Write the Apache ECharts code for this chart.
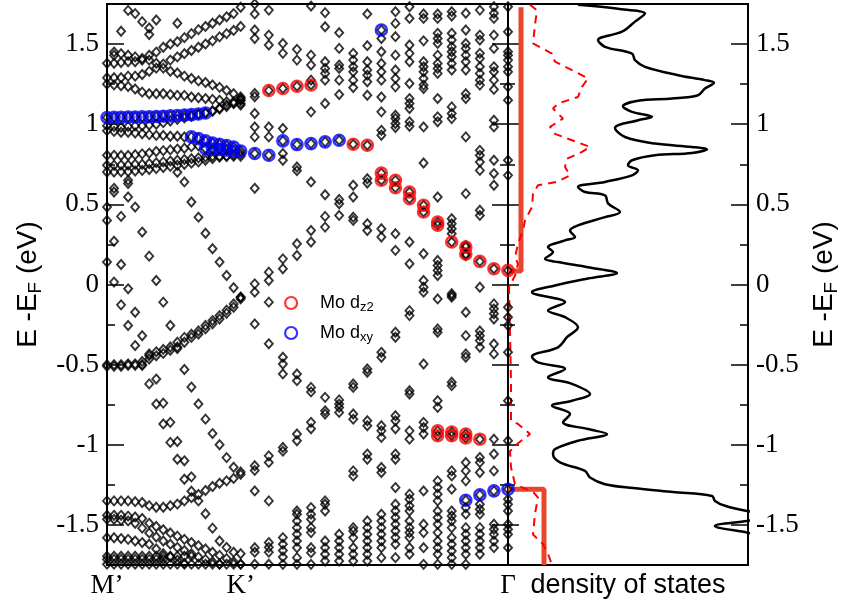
<!DOCTYPE html>
<html><head><meta charset="utf-8">
<script src="https://cdn.jsdelivr.net/npm/echarts@6/dist/echarts.min.js"></script>
<style>html,body{margin:0;padding:0;background:#fff}#c{width:842px;height:605px}</style>
</head><body><div id="c"></div>
<script>
// ---------- axis ticks / labels ----------
const yMajor = [-1.5, -1, -0.5, 0, 0.5, 1, 1.5];
const kLabelPos = [0, 19, 57];
const kLabelText = ['M\u2019', 'K\u2019', '\u0393'];

// ---------- band structure: M' -> K' (k = 0..19) ----------
const mkK = [0,1,2,3,4,5,6,7,8,9,10,11,12,13,14,15,16,17,18,19];
const mkU1 = [1.38,1.38,1.385,1.39,1.39,1.40,1.43,1.45,1.48,1.50,1.515,1.54,1.565,1.59,1.61,1.63,1.65,1.67,1.69,1.73];
const mkU2 = [1.29,1.29,1.29,1.30,1.30,1.31,1.33,1.35,1.375,1.40,1.42,1.44,1.46,1.48,1.50,1.52,1.545,1.565,1.585,1.61];
const mkU3 = [null,1.45,1.44,1.43,1.42,1.41,1.40,1.38,1.35,1.33,1.32,1.30,1.285,1.27,1.26,1.245,1.23,1.21,1.19,1.17];
const mkU4 = [1.25,1.245,1.24,1.235,1.22,1.20,1.19,1.19,1.19,1.185,1.18,1.18,1.17,1.165,1.16,1.155,1.15,1.14,1.13,1.12];
const mkU5 = [null,null,null,null,null,null,null,null,null,null,null,null,null,null,null,1.085,1.10,1.12,1.14,1.16];
const mkU6 = [0.99,0.985,0.98,0.985,0.99,0.99,0.995,1.0,1.01,1.02,1.03,1.04,1.05,1.06,1.07,1.08,1.095,1.11,1.13,1.15];
const mkU7 = [0.96,0.955,0.95,0.95,0.945,0.94,0.935,0.93,0.93,0.925,0.925,0.92,null,null,null,null,null,null,null,null];
const mkU8 = [0.806,0.806,0.805,0.805,0.81,0.815,0.82,0.83,0.835,0.84,0.845,0.85,0.86,0.865,null,null,null,null,null,null];
const mkU9 = [0.744,0.744,0.745,0.745,0.75,0.75,0.755,0.76,0.765,0.77,0.775,0.78,0.785,0.79,0.795,0.80,0.80,0.80,0.80,0.80];
const mkU10 = [0.702,0.702,0.703,0.705,0.708,0.712,0.717,0.723,0.73,0.737,0.744,0.75,0.757,0.765,0.775,0.785,0.795,0.80,0.81,0.815];
const mkS = [null,null,null,null,null,null,null,null,null,null,0.70,0.64,0.515,0.42,0.32,0.223,0.14,0.056,-0.02,-0.08];
const mkP = [null,null,null,0.63,0.483,0.327,0.177,0.025,-0.11,-0.256,-0.40,-0.53,-0.64,-0.745,-0.84,-0.93,-1.0,-1.08,-1.14,-1.17];
const mkQ = [0.40,0.27,0.125,-0.027,-0.173,-0.32,-0.444,-0.59,-0.74,-0.86,-0.98,-1.1,-1.2,null,null,null,null,null,null,null];
const mkR = [0.14,0.015,-0.127,-0.256,-0.381,-0.50,-0.62,-0.746,-0.87,-0.985,-1.09,-1.215,-1.29,-1.35,-1.43,-1.52,-1.6,-1.64,-1.67,-1.68];
const mkF1 = [-0.50,-0.50,-0.50,-0.495,-0.495,-0.48,-0.433,-0.42,-0.405,-0.39,-0.36,-0.33,-0.31,-0.29,-0.256,-0.225,-0.194,-0.16,-0.121,-0.079];
const mkF2 = [-0.51,-0.51,-0.51,-0.505,-0.505,-0.505,-0.465,-0.445,-0.43,-0.41,-0.39,-0.36,-0.33,-0.31,-0.277,-0.245,-0.215,-0.18,-0.142,-0.09];
const mkG1 = [-1.35,-1.35,-1.35,-1.35,-1.355,-1.36,-1.38,-1.39,-1.39,-1.38,-1.37,-1.35,-1.33,-1.31,-1.285,-1.26,-1.24,-1.225,-1.21,-1.185];
const mkG2 = [-1.44,-1.44,-1.44,-1.445,-1.45,-1.46,-1.49,-1.51,-1.53,-1.55,-1.57,-1.59,-1.61,-1.63,-1.65,-1.67,-1.69,-1.71,-1.73,-1.745];
const mkG3 = [-1.465,-1.465,-1.47,-1.475,-1.49,-1.52,-1.55,-1.575,-1.60,-1.62,-1.64,-1.66,-1.68,-1.70,-1.715,-1.73,-1.745,null,null,null];
const mkG4 = [-1.58,-1.58,-1.585,-1.59,-1.60,-1.61,-1.62,-1.65,-1.68,-1.70,-1.72,-1.74,null,null,null,null,null,null,null,null];
const mkG5 = [-1.695,-1.695,-1.695,-1.695,-1.695,-1.695,-1.695,-1.695,-1.695,-1.695,-1.695,-1.695,-1.695,null,null,null,null,null,null,null];
const mkG6 = [-1.715,-1.715,-1.715,-1.715,-1.715,-1.715,-1.715,-1.715,-1.715,null,null,null,null,null,null,null,null,null,null,null];
const mkG7 = [-1.745,-1.745,-1.745,-1.745,-1.745,-1.745,-1.745,-1.745,-1.745,-1.745,-1.745,-1.745,-1.745,-1.745,-1.745,-1.745,-1.745,-1.745,-1.745,-1.745];
const mkExtraK = [3,4,5,6,6,7,10,2,1,1,1,3,3,2,0,19,19];
const mkExtraE = [1.71,1.69,1.64,1.60,1.56,1.65,1.63,1.58,1.43,0.60,0.577,0.65,0.546,0.425,0.483,1.15,1.13];

// ---------- band structure: K' -> Gamma (columns) ----------
const kgK = [21,23,25,27,29,31,33,35,37,39,41,43,45,47,49,51,53,55,57];
const kgE = [
 [1.75,1.688,1.588,1.535,1.192,1.171,1.067,0.983,0.921,0.60,0.004,-0.048,-0.246,-1.131,-1.16,-1.288,-1.642,-1.67,-1.745],
 [1.712,1.556,1.494,0.983,0.921,0.077,0.025,-0.11,-0.37,-1.069,-1.11,-1.35,-1.61,-1.64,-1.67,-1.745],
 [1.504,1.442,0.973,0.817,0.775,0.16,0.098,-0.454,-0.496,-0.558,-1.017,-1.04,-1.579,-1.62,-1.66,-1.70,-1.746],
 [1.467,1.40,0.733,0.71,0.254,0.181,-0.558,-0.60,-0.933,-0.975,-1.413,-1.433,-1.475,-1.517,-1.558,-1.6,-1.642,-1.704,-1.746],
 [1.737,1.431,1.369,1.275,1.077,0.64,0.337,0.265,-0.642,-0.67,-0.86,-0.9,-1.392,-1.433,-1.465,-1.517,-1.548,-1.642,-1.673,-1.746],
 [1.696,1.608,1.39,1.348,1.317,1.275,1.129,0.56,0.425,0.358,-0.704,-0.788,-0.808,-1.35,-1.371,-1.413,-1.6,-1.642,-1.683,-1.725],
 [1.571,1.473,1.369,1.348,1.275,1.185,0.53,0.504,0.431,-0.72,-0.746,-0.767,-0.798,-1.558,-1.6,-1.642,-1.683,-1.725],
 [1.442,1.40,1.358,1.327,1.275,1.229,0.619,0.546,0.42,0.40,-0.621,-0.642,-0.808,-0.84,-1.163,-1.194,-1.517,-1.538,-1.579,-1.642,-1.683,-1.725],
 [1.688,1.49,1.39,1.338,1.306,1.265,1.181,0.66,0.633,0.379,0.337,-0.527,-0.548,-0.85,-0.881,-1.058,-1.09,-1.475,-1.517,-1.558,-1.6,-1.642,-1.683,-1.725],
 [1.535,1.452,1.379,1.327,1.275,1.17,1.077,0.962,0.931,0.348,0.296,-0.423,-0.454,-0.881,-0.913,-0.954,-1.142,-1.173,-1.433,-1.475,-1.517,-1.558,-1.6,-1.642,-1.704],
 [1.702,1.629,1.546,1.431,1.338,1.285,1.233,1.056,1.035,1.004,0.979,0.317,0.213,-0.298,-0.329,-0.819,-0.85,-0.9,-1.058,-1.09,-1.267,-1.371,-1.413,-1.454,-1.496,-1.538,-1.579,-1.621,-1.704],
 [1.733,1.66,1.494,1.442,1.39,1.254,1.16,1.129,1.098,1.015,0.987,0.265,0.129,-0.163,-0.194,-0.663,-0.683,-0.913,-0.965,-1.308,-1.34,-1.381,-1.413,-1.475,-1.517,-1.548,-1.579,-1.642,-1.683],
 [1.688,1.66,1.52,1.39,1.358,1.327,1.285,1.244,1.223,0.983,0.758,0.192,0.025,-0.017,-0.048,-0.496,-0.86,-0.892,-0.933,-1.288,-1.496,-1.548,-1.642,-1.746],
 [1.688,1.66,1.567,1.535,1.504,1.431,1.379,1.348,1.317,1.16,1.046,1.015,0.546,0.15,0.119,0.088,0.056,-0.09,-0.277,-0.298,-0.725,-0.767,-1.225,-1.267,-1.308,-1.35,-1.413,-1.454,-1.496,-1.548,-1.6,-1.642,-1.683,-1.746],
 [1.702,1.675,1.567,1.525,1.483,1.452,1.421,1.379,1.338,1.108,1.067,1.035,0.41,0.379,0.348,0.317,-0.058,-0.069,-0.079,-0.61,-0.631,-1.163,-1.194,-1.277,-1.413,-1.444,-1.475,-1.517,-1.579,-1.621,-1.663,-1.704,-1.746],
 [1.692,1.588,1.504,1.473,1.431,1.39,1.338,1.19,1.16,0.921,0.567,0.244,0.181,-0.173,-0.319,-0.433,-0.454,-1.11,-1.163,-1.225,-1.392,-1.433,-1.517,-1.558,-1.6,-1.642,-1.683,-1.746],
 [1.712,1.556,1.525,1.442,1.41,1.358,1.317,1.275,1.244,0.837,0.806,0.764,0.712,0.463,0.431,-0.017,-0.29,-0.319,-0.35,-0.392,-1.079,-1.11,-1.173,-1.371,-1.402,-1.433,-1.517,-1.558,-1.6,-1.642,-1.683],
 [1.733,1.692,1.66,1.556,1.473,1.358,1.327,1.275,1.217,1.025,0.983,0.775,0.692,0.619,-0.121,-0.152,-0.183,-0.215,-0.371,-0.433,-0.965,-1.058,-1.163,-1.496,-1.527,-1.558,-1.6,-1.642],
 [1.733,1.577,1.452,1.431,1.40,1.358,1.327,1.233,1.15,0.775,0.681,-0.142,-0.204,-0.256,-0.423,-0.725,-0.975,-1.34,-1.371,-1.413,-1.496,-1.527,-1.558,-1.642]
];

// ---------- projected character (circles) ----------
const dz2K = [23,25,27,29,35,37,39,39,41,41,43,43,45,45,47,47,49,51,51,53,55,57,47,47,49,49,51,51,53];
const dz2E = [1.21,1.223,1.237,1.245,0.875,0.869,0.695,0.65,0.65,0.604,0.577,0.535,0.494,0.452,0.39,0.37,0.265,0.233,0.19,0.144,0.098,0.088,-0.913,-0.944,-0.92,-0.944,-0.933,-0.958,-0.965];
const dxyK = [0,1,2,3,4,5,6,7,8,9,10,11,12,13,14, 12,13,14,15,16,17,18, 14,15,16,17,18,19, 21,23,25,27,29,31,33,39,51,53,55,57];
const dxyE = [1.042,1.043,1.043,1.044,1.045,1.046,1.047,1.048,1.05,1.052,1.054,1.057,1.06,1.064,1.07,
              0.921,0.91,0.896,0.883,0.875,0.867,0.858,
              0.848,0.844,0.842,0.838,0.833,0.833,
              0.817,0.806,0.896,0.873,0.879,0.89,0.9,1.588,-1.346,-1.3125,-1.2875,-1.277];

// ---------- density of states ----------
const dosTotE = [1.745,1.72,1.69,1.64,1.577,1.525,1.483,1.44,1.40,1.358,1.306,1.275,1.258,1.223,1.181,1.16,1.146,1.1125,1.077,1.046,1.025,0.977,0.92,0.879,0.858,0.844,0.821,0.806,0.775,0.744,0.7125,0.681,0.64,0.608,0.577,0.556,0.506,0.452,0.42,0.369,0.3375,0.296,0.275,0.233,0.202,0.16,0.14,0.108,0.071,0.0375,-0.006,-0.048,-0.11,-0.1625,-0.204,-0.267,-0.329,-0.392,-0.45,-0.486,-0.527,-0.579,-0.62,-0.683,-0.725,-0.756,-0.808,-0.86,-0.902,-0.933,-0.975,-1.027,-1.058,-1.11,-1.1625,-1.204,-1.246,-1.27,-1.295,-1.319,-1.35,-1.38,-1.4125,-1.44,-1.475,-1.506,-1.548,-1.6,-1.75];
const dosTotV = [7.0,11.0,13.7,12.7,11.4,9.0,9.7,12.4,12.7,13.7,17.0,19.7,20.6,19.7,19.0,16.4,13.0,11.5,12.4,14.4,13.0,10.7,11.7,14.7,18.4,19.9,18.4,14.7,12.4,12.0,13.0,12.4,9.7,7.0,7.7,9.7,10.0,11.2,9.7,7.0,6.2,6.7,5.7,4.0,4.5,3.7,5.0,8.0,10.9,8.0,4.7,2.4,5.7,4.0,5.7,7.0,5.9,5.0,2.4,3.0,5.7,4.0,6.4,8.2,6.4,4.4,6.2,5.5,8.0,9.9,7.0,4.7,4.5,5.2,7.7,8.2,9.7,12.5,16.5,20.4,20.7,21.7,23.9,27.0,23.9,20.7,23.9,28.0,30.0];
const dosMoE = [1.745,1.71,1.62,1.504,1.44,1.39,1.3375,1.286,1.233,1.17,1.129,1.098,1.035,0.983,0.94,0.9,0.858,0.827,0.785,0.733,0.681,0.64,0.619,0.567,0.483,0.40,0.3375,0.254,0.17,0.129,0.056,-0.017,-0.3,-0.6,-0.85,-0.87,-0.933,-0.99,-1.04,-1.14,-1.246,-1.30,-1.33,-1.43,-1.56,-1.62,-1.68,-1.75];
const dosMoV = [2.2,2.9,2.7,2.5,4.4,4.7,6.4,8.0,7.4,7.0,5.0,4.5,5.5,4.2,4.7,6.4,8.2,7.4,5.9,5.7,6.2,4.9,3.0,2.5,2.4,1.7,1.5,1.0,0.7,1.0,0.7,0.1,0.2,0.3,0.3,1.0,2.2,1.0,0.2,0.3,0.7,2.6,3.0,2.7,2.5,3.5,4.0,4.4];
const gapUpE = [1.73, 0.085, 0.085];
const gapUpV = [1.3, 1.3, 0];
const gapDnE = [-1.277, -1.277, -1.75];
const gapDnV = [0, 3.6, 3.6];

// ---------- build ----------
const mkBands = [mkU1,mkU2,mkU3,mkU4,mkU5,mkU6,mkU7,mkU8,mkU9,mkU10,mkS,mkP,mkQ,mkR,mkF1,mkF2,mkG1,mkG2,mkG3,mkG4,mkG5,mkG6,mkG7];
const black = [];
mkBands.forEach(b => b.forEach((e, i) => { if (e !== null) black.push([mkK[i], e]); }));
mkExtraK.forEach((k, i) => black.push([k, mkExtraE[i]]));
kgE.forEach((col, j) => col.forEach(e => black.push([kgK[j], e])));
const dz2 = dz2K.map((k, i) => [k, dz2E[i]]);
const dxy = dxyK.map((k, i) => [k, dxyE[i]]);
dz2.forEach(p => black.push(p));
dxy.forEach(p => black.push(p));

const SERIF = 'Liberation Serif';
const SANS = 'Liberation Sans';
const tickLine = { color: '#000', width: 1.5 };

function yAx(grid, pos, len, withLabels, custom, extra) {
  const a = {
    type: 'value', gridIndex: grid, position: pos, min: -1.75, max: 1.75, interval: 0.25,
    axisLine: { show: false, onZero: false },
    splitLine: { show: false },
    axisTick: { show: true, inside: true, length: len, lineStyle: tickLine },
    axisLabel: { show: false }
  };
  if (custom) {
    a.axisTick.customValues = yMajor;
    if (withLabels) {
      a.axisLabel = { show: true, customValues: yMajor, formatter: v => String(v),
        fontFamily: SERIF, fontSize: 27, color: '#000', margin: 8 };
    }
  }
  return Object.assign(a, extra || {});
}
const nameRich = {
  a: { fontFamily: SANS, fontSize: 28, color: '#000' },
  s: { fontFamily: SANS, fontSize: 19, color: '#000', padding: [14, 0, 0, 0] }
};
const yName = '{a|E -E}{s|F}{a| (eV)}';

const chart = echarts.init(document.getElementById('c'), null, { renderer: 'canvas' });
chart.setOption({
  animation: false,
  backgroundColor: '#fff',
  grid: [
    { left: 107, top: 4, width: 401, height: 561, show: true, borderColor: '#000', borderWidth: 2, backgroundColor: 'transparent', outerBoundsMode: 'none', containLabel: false },
    { left: 508, top: 4, width: 240, height: 561, show: true, borderColor: '#000', borderWidth: 2, backgroundColor: 'transparent', outerBoundsMode: 'none', containLabel: false }
  ],
  xAxis: [
    { type: 'value', gridIndex: 0, min: 0, max: 57,
      axisLine: { show: false, onZero: false }, axisTick: { show: false }, splitLine: { show: false },
      axisLabel: { show: true, customValues: kLabelPos, formatter: v => kLabelText[kLabelPos.indexOf(v)],
        fontFamily: SERIF, fontSize: 27, color: '#000', margin: 7 } },
    { type: 'value', gridIndex: 1, min: 0, max: 24,
      axisLine: { show: false, onZero: false }, axisTick: { show: false }, splitLine: { show: false }, axisLabel: { show: false },
      name: 'density of states', nameLocation: 'middle', nameGap: 7,
      nameTextStyle: { fontFamily: SANS, fontSize: 27, color: '#000', verticalAlign: 'top' } }
  ],
  yAxis: [
    yAx(0, 'left', 8, false, false),
    yAx(0, 'left', 17, true, true, { name: yName, nameLocation: 'middle', nameRotate: 90, nameGap: 62, nameTextStyle: { rich: nameRich } }),
    yAx(0, 'right', 8, false, false),
    yAx(0, 'right', 16, false, true),
    yAx(1, 'left', 7, false, false),
    yAx(1, 'left', 11, false, true),
    yAx(1, 'right', 8, false, false),
    yAx(1, 'right', 17, true, true, { name: yName, nameLocation: 'middle', nameRotate: 90, nameGap: 60, nameTextStyle: { rich: nameRich } })
  ],
  legend: {
    left: 279, top: 289, orient: 'vertical', itemGap: 10, itemWidth: 12, itemHeight: 12,
    selectedMode: false,
    data: [
      { name: 'dz2', icon: 'circle', itemStyle: { color: 'transparent', borderColor: '#ff0000', borderWidth: 2.2 } },
      { name: 'dxy', icon: 'circle', itemStyle: { color: 'transparent', borderColor: '#0000ff', borderWidth: 2.2 } }
    ],
    formatter: n => n === 'dz2' ? '{a|Mo d}{s|z2}' : '{a|Mo d}{s|xy}',
    textStyle: { rich: {
      a: { fontFamily: SANS, fontSize: 18, color: '#000', padding: [0, 0, 0, 18] },
      s: { fontFamily: SANS, fontSize: 13, color: '#000', padding: [9, 0, 0, 0] }
    } }
  },
  series: [
    { name: 'bands', type: 'scatter', xAxisIndex: 0, yAxisIndex: 0, data: black,
      symbol: 'diamond', symbolSize: [8, 9], silent: true,
      itemStyle: { color: 'rgba(0,0,0,0)', borderColor: '#000', borderWidth: 1.9 }, z: 3 },
    { name: 'dz2', type: 'scatter', xAxisIndex: 0, yAxisIndex: 0, data: dz2,
      symbol: 'circle', symbolSize: 11, silent: true,
      itemStyle: { color: 'rgba(0,0,0,0)', borderColor: '#ff0000', borderWidth: 2.6 }, z: 4 },
    { name: 'dxy', type: 'scatter', xAxisIndex: 0, yAxisIndex: 0, data: dxy,
      symbol: 'circle', symbolSize: 11, silent: true,
      itemStyle: { color: 'rgba(0,0,0,0)', borderColor: '#0000ff', borderWidth: 2.6 }, z: 4 },
    { name: 'dosTot', type: 'line', xAxisIndex: 1, yAxisIndex: 4, data: dosTotE.map((e, i) => [dosTotV[i], e]),
      showSymbol: false, smooth: 0.35, silent: true, clip: true,
      lineStyle: { color: '#000', width: 2.5 }, z: 3 },
    { name: 'dosMo', type: 'line', xAxisIndex: 1, yAxisIndex: 4, data: dosMoE.map((e, i) => [dosMoV[i], e]),
      showSymbol: false, smooth: false, silent: true, clip: true,
      lineStyle: { color: '#ff0000', width: 2, type: [8, 6] }, z: 3 },
    { name: 'gapUp', type: 'line', xAxisIndex: 1, yAxisIndex: 4, data: gapUpE.map((e, i) => [gapUpV[i], e]),
      showSymbol: false, silent: true, lineStyle: { color: '#e8452c', width: 5 }, z: 2 },
    { name: 'gapDn', type: 'line', xAxisIndex: 1, yAxisIndex: 4, data: gapDnE.map((e, i) => [gapDnV[i], e]),
      showSymbol: false, silent: true, lineStyle: { color: '#e8452c', width: 5 }, z: 2 }
  ]
});
</script></body></html>
